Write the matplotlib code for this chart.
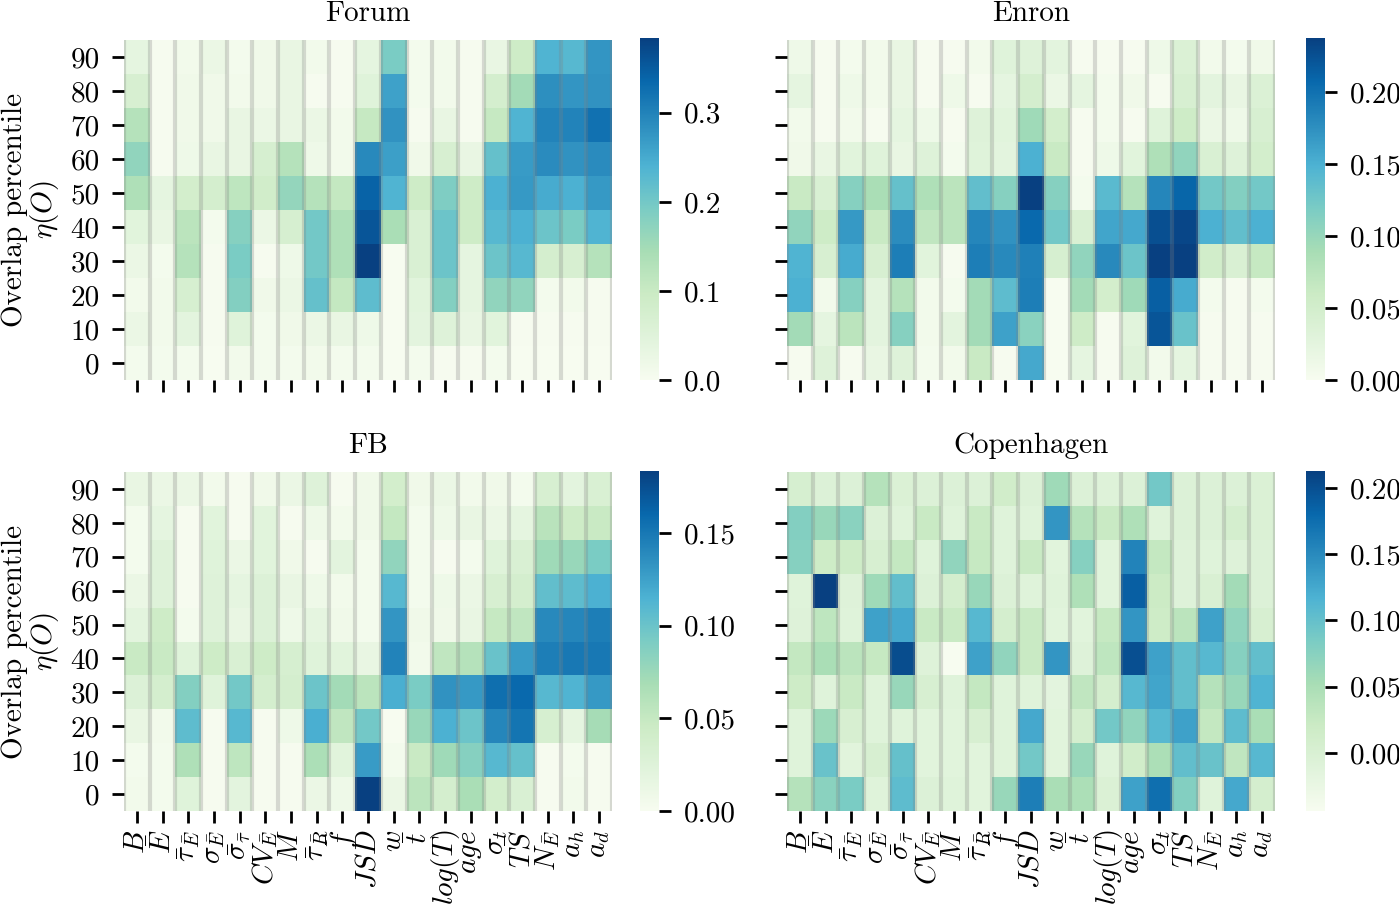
import numpy as np
import matplotlib
matplotlib.use("Agg")
import matplotlib.pyplot as plt

plt.rcParams['font.family'] = ['cmr10', 'DejaVu Sans']
plt.rcParams['mathtext.fontset'] = 'cm'
plt.rcParams['axes.formatter.use_mathtext'] = True
plt.rcParams['font.size'] = 21

features = [r'$B$', r'$\bar{E}$', r'$\bar{\tau}_{\bar{E}}$', r'$\sigma_{\bar{E}}$',
            r'$\bar{\sigma}_{\bar{\tau}}$', r'$CV_{\bar{E}}$', r'$M$', r'$\bar{\tau}_{\bar{R}}$',
            r'$\bar{f}$', r'$JSD$', r'$w$', r'$\bar{t}$', r'$log(T)$', r'$age$',
            r'$\sigma_t$', r'$T\bar{S}$', r'$N_{\bar{E}}$', r'$a_h$', r'$a_d$']
percentiles = [90, 80, 70, 60, 50, 40, 30, 20, 10, 0]

# cell values, in percent of the colourbar range, top row = 90
forum = [
    [10, 1, 3, 7, 2, 4, 8, 3, 1, 10, 50, 2, 3, 1, 8, 24, 62, 60, 72],
    [18, 1, 4, 4, 3, 4, 8, 1, 1, 13, 68, 2, 3, 1, 20, 39, 74, 72, 73],
    [33, 1, 4, 4, 8, 7, 8, 7, 3, 27, 73, 1, 8, 1, 27, 62, 78, 78, 84],
    [44, 1, 5, 8, 8, 19, 33, 5, 3, 76, 69, 4, 18, 8, 56, 70, 75, 73, 75],
    [35, 10, 21, 20, 30, 22, 43, 33, 28, 89, 62, 24, 49, 24, 63, 71, 65, 63, 71],
    [12, 8, 31, 2, 47, 7, 19, 52, 35, 93, 37, 17, 54, 24, 60, 63, 54, 50, 62],
    [7, 2, 33, 1, 50, 1, 5, 52, 35, 100, 0, 17, 54, 10, 54, 60, 20, 18, 33],
    [3, 3, 19, 1, 48, 4, 7, 56, 28, 58, 0, 12, 48, 10, 44, 44, 2, 3, 1],
    [7, 3, 11, 1, 13, 2, 4, 7, 8, 5, 0, 11, 14, 8, 12, 1, 1, 1, 1],
    [2, 2, 2, 0, 3, 2, 2, 3, 2, 2, 0, 2, 1, 1, 2, 0, 0, 0, 0],
]
enron = [
    [5, 1, 2, 3, 8, 1, 1, 3, 13, 14, 11, 1, 1, 1, 5, 16, 3, 2, 4],
    [10, 1, 5, 3, 8, 1, 5, 1, 10, 20, 7, 10, 2, 4, 1, 18, 11, 8, 16],
    [3, 1, 3, 1, 10, 5, 1, 14, 12, 40, 21, 1, 2, 1, 13, 24, 7, 5, 18],
    [4, 8, 12, 13, 8, 14, 2, 13, 11, 63, 26, 1, 5, 12, 35, 44, 17, 14, 21],
    [26, 17, 47, 37, 56, 35, 31, 57, 47, 100, 47, 2, 59, 33, 77, 88, 52, 48, 52],
    [44, 24, 71, 26, 75, 29, 31, 77, 73, 87, 52, 17, 67, 66, 95, 98, 63, 57, 63],
    [62, 18, 65, 18, 80, 12, 1, 80, 76, 79, 19, 44, 76, 54, 100, 100, 22, 17, 27],
    [63, 3, 47, 11, 33, 3, 2, 39, 58, 80, 0, 39, 21, 40, 90, 65, 2, 1, 2],
    [39, 10, 31, 11, 47, 3, 11, 39, 68, 46, 0, 24, 1, 12, 93, 55, 1, 1, 1],
    [1, 14, 1, 8, 14, 2, 3, 26, 1, 66, 0, 10, 1, 14, 3, 10, 1, 1, 1],
]
fb = [
    [8, 7, 7, 3, 1, 4, 7, 14, 1, 4, 21, 4, 7, 3, 4, 2, 18, 11, 17],
    [2, 10, 1, 12, 1, 12, 1, 5, 3, 4, 28, 2, 5, 8, 7, 10, 32, 24, 26],
    [2, 14, 1, 13, 7, 12, 4, 1, 11, 2, 44, 2, 1, 2, 13, 17, 40, 42, 50],
    [7, 14, 1, 14, 10, 15, 8, 5, 3, 2, 60, 2, 5, 7, 18, 20, 57, 58, 63],
    [11, 24, 2, 14, 8, 15, 5, 10, 4, 2, 72, 4, 4, 8, 27, 29, 76, 77, 80],
    [26, 26, 13, 24, 17, 24, 19, 13, 12, 8, 78, 3, 29, 33, 55, 70, 80, 82, 82],
    [15, 20, 48, 13, 52, 20, 20, 54, 39, 31, 64, 50, 73, 71, 85, 87, 60, 62, 71],
    [8, 3, 58, 1, 60, 1, 5, 64, 29, 52, 0, 42, 63, 54, 77, 83, 19, 10, 38],
    [2, 2, 35, 1, 30, 1, 1, 36, 12, 70, 2, 26, 40, 47, 60, 56, 1, 2, 1],
    [3, 2, 13, 1, 11, 1, 1, 7, 5, 100, 7, 31, 20, 37, 21, 17, 1, 3, 1],
]
copenhagen = [
    [19, 15, 15, 33, 16, 15, 15, 15, 22, 15, 40, 15, 14, 15, 52, 15, 15, 15, 16],
    [48, 42, 46, 15, 13, 26, 13, 26, 13, 13, 72, 33, 26, 35, 13, 15, 15, 20, 16],
    [47, 24, 24, 18, 28, 13, 44, 27, 13, 26, 12, 47, 12, 78, 28, 14, 13, 14, 15],
    [13, 100, 14, 40, 57, 15, 20, 42, 15, 13, 13, 35, 12, 90, 25, 14, 17, 39, 15],
    [14, 30, 13, 68, 66, 26, 26, 60, 20, 26, 12, 12, 27, 72, 24, 31, 68, 44, 18],
    [28, 37, 31, 27, 96, 14, 0, 68, 44, 26, 72, 14, 30, 95, 68, 57, 60, 47, 57],
    [24, 13, 26, 13, 42, 18, 13, 28, 13, 13, 11, 29, 20, 60, 67, 57, 33, 42, 62],
    [13, 41, 18, 13, 13, 12, 12, 18, 13, 66, 12, 20, 52, 44, 60, 68, 28, 58, 37],
    [13, 55, 12, 18, 56, 12, 12, 12, 13, 52, 12, 42, 13, 22, 36, 57, 55, 29, 60],
    [33, 46, 50, 13, 58, 15, 13, 12, 42, 80, 37, 36, 16, 68, 85, 48, 13, 66, 20],
]

titles = ['Forum', 'Enron', 'FB', 'Copenhagen']
panels = [forum, enron, fb, copenhagen]
vmins = [0.0, 0.0, 0.0, -0.0438]
vmaxs = [0.384, 0.2375, 0.1835, 0.2128]
cbar_ticks = [[0.0, 0.1, 0.2, 0.3],
              [0.0, 0.05, 0.10, 0.15, 0.20],
              [0.0, 0.05, 0.10, 0.15],
              [0.0, 0.05, 0.10, 0.15, 0.20]]
cbar_fmt = ['%.1f', '%.2f', '%.2f', '%.2f']

W, H = 1399, 916
# panel boxes in pixels: left, top, right, bottom
boxes = [(124, 40, 612, 380), (787, 40, 1275, 380),
         (124, 472, 612, 811), (787, 472, 1275, 811)]
cboxes = [(640, 38, 659, 380), (1306, 38, 1325, 380),
          (640, 471, 659, 811), (1306, 471, 1325, 811)]


def px_axes(fig, box):
    l, t, r, b = box
    return fig.add_axes([l / W, 1 - b / H, (r - l) / W, (b - t) / H])


fig = plt.figure(figsize=(W / 100, H / 100), dpi=100)

for i in range(4):
    ax = px_axes(fig, boxes[i])
    cax = px_axes(fig, cboxes[i])

    values = vmins[i] + np.array(panels[i]) / 100 * (vmaxs[i] - vmins[i])
    mesh = ax.pcolormesh(values, cmap='GnBu', vmin=vmins[i], vmax=vmaxs[i])
    ax.set_ylim(len(percentiles), 0)
    ax.set_xlim(0, len(features))
    for s in ax.spines.values():
        s.set_visible(False)

    # grey seams between the columns
    ax.vlines(np.arange(len(features) + 1), 0, len(percentiles), color='gray',
              alpha=0.28, linewidth=3)

    ax.set_xticks(np.arange(len(features)) + 0.5)
    ax.set_yticks(np.arange(len(percentiles)) + 0.5)
    ax.tick_params(length=8.6, width=2, pad=5)
    ax.tick_params(axis='y', pad=9)
    if i >= 2:
        ax.set_xticklabels(features, rotation=90, fontsize=21)
    else:
        ax.set_xticklabels([])
    if i % 2 == 0:
        ax.set_yticklabels(percentiles)
        ax.set_ylabel('Overlap percentile\n$\\eta(O)$', labelpad=7, linespacing=1.0)
    else:
        ax.set_yticklabels([])
    ax.set_title(titles[i], fontsize=21, pad=14)

    cb = fig.colorbar(mesh, cax=cax, format=cbar_fmt[i])
    cb.set_ticks(cbar_ticks[i])
    cb.outline.set_visible(False)
    cb.ax.tick_params(length=8.6, width=2, pad=9)

fig.savefig('out.png', dpi=100)
